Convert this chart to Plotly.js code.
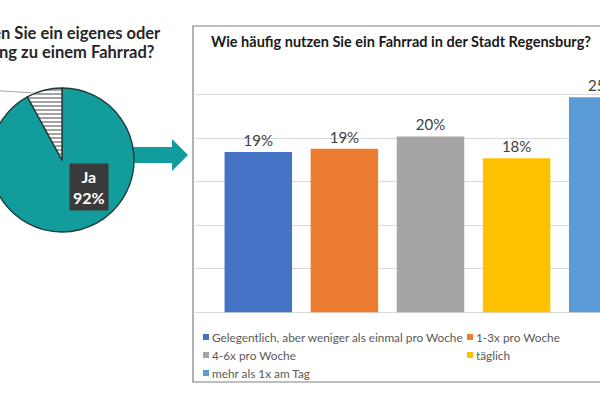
<!DOCTYPE html>
<html><head><meta charset="utf-8">
<script src="https://cdn.plot.ly/plotly-3.0.1.min.js"></script>
<style>
html,body{margin:0;padding:0;overflow:hidden;width:600px;height:400px;background:#fff}
#chart{position:absolute;left:-80px;top:0;width:760px;height:400px}
</style>
</head><body><div id="chart"></div>
<script>
// ---- data ----
const pieLabels = ["Ja", "Nein"];
const pieValues = [92, 8];
const pieTitleLines = ["Haben Sie ein eigenes oder", "Zugang zu einem Fahrrad?"];
const barTitle = "Wie häufig nutzen Sie ein Fahrrad in der Stadt Regensburg?";
const barCategory = ["Regensburg"];
const seriesNames = [
  "Gelegentlich, aber weniger als einmal pro Woche",
  "1-3x pro Woche",
  "4-6x pro Woche",
  "täglich",
  "mehr als 1x am Tag"
];
const seriesValues = [18.4, 18.8, 20.2, 17.7, 24.7];
const seriesLabels = ["19%", "19%", "20%", "18%", "25%"];

// ---- styles ----
const seriesColors = ["#4472C4", "#ED7D31", "#A5A5A5", "#FFC000", "#5B9BD5"];
const teal = "#129c9c";
const FONT = "Lato, 'Open Sans', sans-serif";

// page-pixel -> paper helpers (div is shifted 80px left, 760px wide)
const W = 760, H = 400, OFF = 80;
const px = p => (p + OFF) / W;
const py = p => 1 - p / H;

const traces = [];
traces.push({
  type: "pie",
  labels: pieLabels,
  values: pieValues,
  sort: false,
  direction: "clockwise",
  rotation: 0,
  textinfo: "none",
  hoverinfo: "label+percent",
  showlegend: false,
  domain: {x: [px(-10), px(134)], y: [py(232), py(88)]},
  marker: {
    colors: [teal, "#ffffff"],
    line: {color: "#1f3b3b", width: 1.4},
    pattern: {shape: ["", "-"], fgcolor: "#8c8c8c", bgcolor: "#ffffff", size: 4, solidity: 0.4}
  }
});

seriesNames.forEach((n, i) => {
  traces.push({
    type: "bar",
    name: n,
    x: barCategory,
    y: [seriesValues[i]],
    text: [seriesLabels[i]],
    textposition: "outside",
    textfont: {family: FONT, size: 15, color: "#404040"},
    cliponaxis: false,
    marker: {color: seriesColors[i]},
    showlegend: false,
    xaxis: "x", yaxis: "y"
  });
});

const shapes = [];
// chart box
shapes.push({type: "rect", xref: "paper", yref: "paper", layer: "below",
  x0: px(193), x1: px(720), y0: py(382), y1: py(26),
  line: {color: "#7f7f7f", width: 1.2}, fillcolor: "rgba(0,0,0,0)"});
// arrow
const ap = [[128,147],[172,147],[172,139],[188,155],[172,171],[172,163],[128,163]];
shapes.push({type: "path", xref: "paper", yref: "paper", layer: "below",
  path: "M" + ap.map(p => px(p[0]) + "," + py(p[1])).join(" L") + " Z",
  fillcolor: teal, line: {width: 0}});
// leader line of the cropped "Nein" label
shapes.push({type: "line", xref: "paper", yref: "paper",
  x0: px(-60), y0: py(87), x1: px(34), y1: py(93),
  line: {color: "#a6a6a6", width: 1}});

const annotations = [];
annotations.push({xref: "paper", yref: "paper", x: px(400.5), y: py(41),
  text: "<b>" + barTitle + "</b>", showarrow: false, xanchor: "center", yanchor: "middle",
  font: {family: FONT, size: 14.5, color: "#1a1a1a"}});
annotations.push({xref: "paper", yref: "paper", x: px(163), y: py(33),
  text: "<b>" + pieTitleLines[0] + "</b>", showarrow: false, xanchor: "right", yanchor: "middle",
  font: {family: FONT, size: 16.5, color: "#262626"}});
annotations.push({xref: "paper", yref: "paper", x: px(156), y: py(52),
  text: "<b>" + pieTitleLines[1] + "</b>", showarrow: false, xanchor: "right", yanchor: "middle",
  font: {family: FONT, size: 16.5, color: "#262626"}});
annotations.push({xref: "paper", yref: "paper", x: px(89), y: py(187),
  text: "<b>" + pieLabels[0] + "<br>" + pieValues[0] + "%</b>", showarrow: false,
  xanchor: "center", yanchor: "middle", bgcolor: "#3a3a3a", borderpad: 3,
  font: {family: FONT, size: 16, color: "#ffffff"}});

// legend (two columns) built from series arrays
seriesNames.forEach((n, i) => {
  const col = i % 2, row = Math.floor(i / 2);
  const x = col ? 467 : 203;
  const y = 337 + row * 18;
  shapes.push({type: "rect", xref: "paper", yref: "paper",
    x0: px(x), x1: px(x + 6), y0: py(y + 3), y1: py(y - 3),
    fillcolor: seriesColors[i], line: {width: 0}});
  annotations.push({xref: "paper", yref: "paper", x: px(x + 7), y: py(y),
    text: n, showarrow: false, xanchor: "left", yanchor: "middle",
    font: {family: FONT, size: 11.8, color: "#595959"}});
});

const center = 430.5, unit = 430.5;
const layout = {
  width: W, height: H,
  margin: {l: 0, r: 0, t: 0, b: 0},
  paper_bgcolor: "#ffffff", plot_bgcolor: "rgba(0,0,0,0)",
  barmode: "group", bargap: 0, bargroupgap: 0.216,
  showlegend: false,
  xaxis: {type: "category", domain: [px(195), 1],
    range: [(195 - center) / unit, (760 - OFF - center) / unit],
    showticklabels: false, showgrid: false, zeroline: false, ticks: "", fixedrange: true},
  yaxis: {domain: [py(312.5), py(51)], range: [0, 30], dtick: 5,
    showticklabels: false, ticks: "", gridcolor: "#d9d9d9", gridwidth: 1,
    zeroline: true, zerolinecolor: "#d9d9d9", zerolinewidth: 1, fixedrange: true},
  shapes: shapes,
  annotations: annotations,
  font: {family: FONT}
};

Plotly.newPlot("chart", traces, layout, {displayModeBar: false, staticPlot: true});
</script>
</body></html>
